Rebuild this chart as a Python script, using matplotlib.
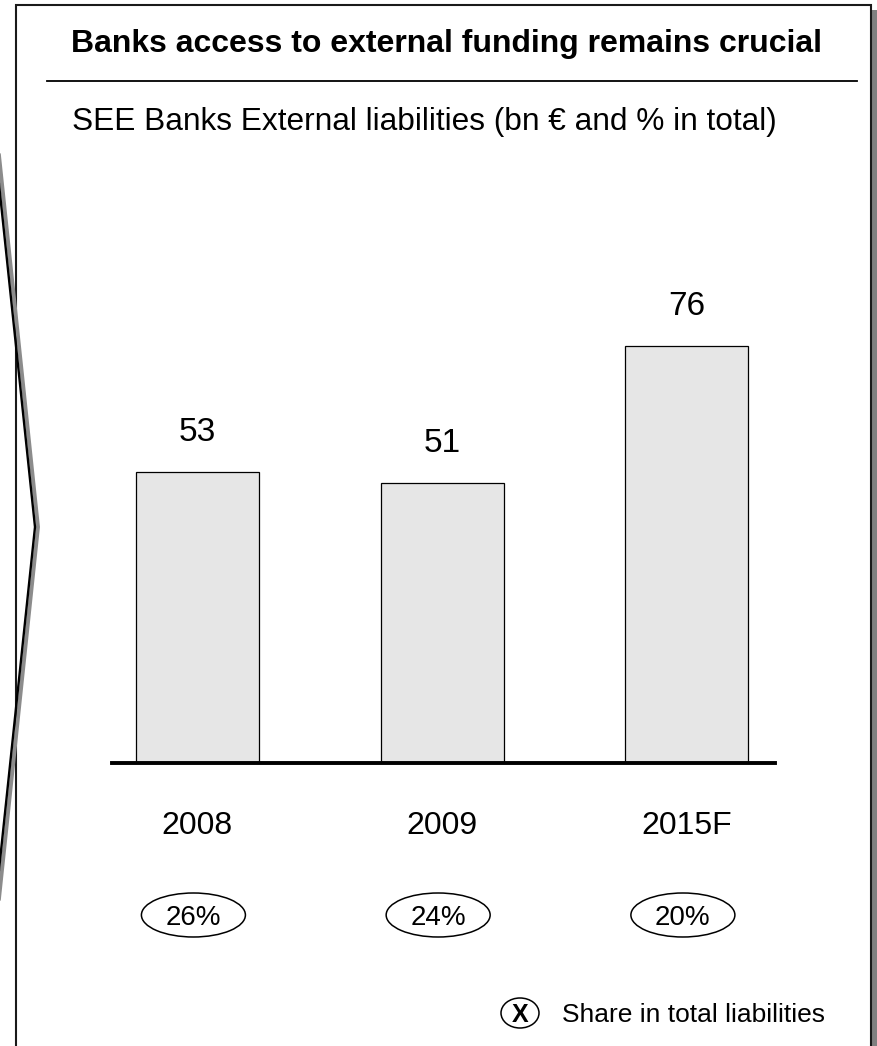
import matplotlib.pyplot as plt
from matplotlib.patches import Rectangle, Ellipse

plt.rcParams['font.family'] = ['Liberation Sans', 'DejaVu Sans']

years = ["2008", "2009", "2015F"]
liabilities = [53, 51, 76]          # bn EUR
share_labels = ["26%", "24%", "20%"]

W, H = 878, 1046
fig = plt.figure(figsize=(W / 100, H / 100), dpi=100)

# overlay in pixel coordinates (origin top-left) for the frame and texts
bg = fig.add_axes([0, 0, 1, 1])
bg.set_xlim(0, W)
bg.set_ylim(H, 0)
bg.axis("off")

# framed panel with drop shadow
bg.add_patch(Rectangle((21, 10), 856, 1060, facecolor="#808080",
                       edgecolor="none", zorder=1))
bg.add_patch(Rectangle((16, 5), 855, 1060, facecolor="white",
                       edgecolor="#1a1a1a", lw=1.5, zorder=2))

# chevron edge of the neighbouring panel
cx = [-20, 35, -20]
cy = [3, 527, 1051]
bg.plot([x + 3 for x in cx], cy, color="#8c8c8c", lw=2.8, zorder=3,
        solid_joinstyle="miter")
bg.plot(cx, cy, color="black", lw=1.7, zorder=4, solid_joinstyle="miter")

bg.text(447, 52, "Banks access to external funding remains crucial",
        ha="center", va="baseline", fontsize=23, fontweight="bold", zorder=5)
bg.plot([47, 857], [81, 81], color="black", lw=1.3, zorder=5)
bg.text(72, 130, "SEE Banks External liabilities (bn \u20ac and % in total)",
        ha="left", va="baseline", fontsize=22.8, zorder=5)

# bar chart
ax = fig.add_axes([112 / W, 283 / H, 663 / W, 613 / H])
ax.set_xlim(-0.349, 2.36)
ax.set_ylim(0, 613 / 5.49)
ax.axis("off")
ax.patch.set_alpha(0)

pos = list(range(len(years)))
bars = ax.bar(pos, liabilities, width=0.503, color="#e6e6e6",
              edgecolor="black", linewidth=0.9, zorder=2)
ax.axhline(0, color="black", lw=2.8, zorder=3, clip_on=False)
for b, v in zip(bars, liabilities):
    ax.annotate(str(v), (b.get_x() + b.get_width() / 2, v),
                xytext=(0, 17), textcoords="offset points",
                ha="center", va="bottom", fontsize=24)

# year labels and share ellipses, positioned from the bar axis
for p, yr, sh in zip(pos, years, share_labels):
    px = ax.transData.transform((p, 0))[0]
    bg.text(px, 834, yr, ha="center", va="baseline", fontsize=23, zorder=5)
    bg.add_patch(Ellipse((px - 4, 915), 104, 44, facecolor="none",
                         edgecolor="black", lw=1.1, zorder=5))
    bg.text(px - 4, 915, sh, ha="center", va="center_baseline", fontsize=20,
            zorder=6)

# legend
bg.add_patch(Ellipse((520, 1013), 38, 30, facecolor="none",
                     edgecolor="black", lw=1.1, zorder=5))
bg.text(520, 1013, "X", ha="center", va="center_baseline", fontsize=18,
        fontweight="bold", zorder=6)
bg.text(562, 1013, "Share in total liabilities", ha="left",
        va="center_baseline", fontsize=19, zorder=6)

fig.savefig("out.png", dpi=100)
